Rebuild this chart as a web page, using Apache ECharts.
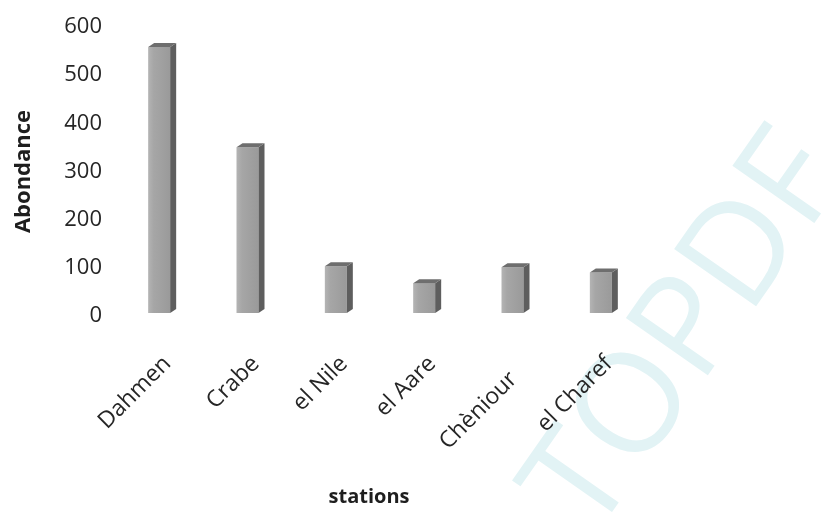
<!DOCTYPE html>
<html>
<head>
<meta charset="utf-8">
<title>Abondance par station</title>
<script src="https://cdn.jsdelivr.net/npm/echarts@6/dist/echarts.min.js"></script>
<style>
  html, body { margin: 0; padding: 0; background: #ffffff; }
  #chart { width: 826px; height: 512px; }
</style>
</head>
<body>
<div id="chart"></div>
<script>
// Stations sampled and the abundance counted at each one
const stations = ['Dahmen', 'Crabe', 'el Nile', 'el Aare', 'Chèniour', 'el Charef'];
const abondance = [552, 344, 97, 62, 95, 84];
const yTicks = { min: 0, max: 600, interval: 100 };

const FONT = '"Open Sans", "DejaVu Sans", sans-serif';

// Draws a column with a front face, a darker right side and a top face;
// the column stands half its depth in front of the value plane.
function renderColumn(params, api) {
  const idx = api.value(0);
  const top = api.coord([idx, api.value(1)]);
  const base = api.coord([idx, 0]);
  const half = 11;      // half width of the front face
  const dx = 6, dy = 4; // depth offset of the side and top faces
  const lift = 3;       // floor of the columns above the zero line
  const xl = top[0] - half, xr = top[0] + half;
  const yt = top[1] - lift, yb = base[1] - lift;
  return {
    type: 'group',
    children: [
      {
        type: 'rect',
        shape: { x: xl, y: yt, width: xr - xl, height: yb - yt },
        style: {
          fill: new echarts.graphic.LinearGradient(0, 0, 1, 0, [
            { offset: 0, color: '#b4b4b4' },
            { offset: 0.25, color: '#a6a6a6' },
            { offset: 1, color: '#9a9a9a' }
          ])
        }
      },
      {
        type: 'polygon',
        shape: { points: [[xr, yt], [xr + dx, yt - dy], [xr + dx, yb - dy], [xr, yb]] },
        style: { fill: '#5e5e5e' }
      },
      {
        type: 'polygon',
        shape: { points: [[xl, yt], [xl + dx, yt - dy], [xr + dx, yt - dy], [xr, yt]] },
        style: { fill: '#6e6e6e' }
      }
    ]
  };
}

const chart = echarts.init(document.getElementById('chart'), null, { renderer: 'canvas' });

const labelText = { fontFamily: FONT, fontSize: 23, color: '#262626' };

chart.setOption({
  backgroundColor: '#ffffff',
  animation: false,
  graphic: [
    {
      type: 'text',
      z: -10,
      x: 688,
      y: 334,
      rotation: 55 * Math.PI / 180,
      style: {
        text: 'TOPDF',
        fontSize: 140,
        fontFamily: FONT,
        fill: '#e2f3f5',
        align: 'center',
        verticalAlign: 'middle'
      }
    }
  ],
  grid: { left: 115, right: 181, top: 27, bottom: 193 },
  xAxis: {
    type: 'category',
    data: stations,
    name: 'stations',
    nameLocation: 'middle',
    nameGap: 171,
    nameTextStyle: {
      fontFamily: FONT, fontSize: 20, fontWeight: 'bold', color: '#1e1e1e',
      padding: [0, 22, 0, 0]
    },
    axisLine: { show: false },
    axisTick: { show: false },
    axisLabel: Object.assign({
      rotate: 45,
      margin: 36,
      interval: 0,
      align: 'right',
      verticalAlign: 'top',
      // the last-but-one label sits a little lower than the others
      formatter: v => (v === 'Chèniour' ? '{low|' + v + '}' : v),
      rich: {
        low: Object.assign({ padding: [6, 16, 0, 0] }, labelText)
      }
    }, labelText)
  },
  yAxis: {
    type: 'value',
    min: yTicks.min,
    max: yTicks.max,
    interval: yTicks.interval,
    name: 'Abondance',
    nameLocation: 'middle',
    nameGap: 80,
    nameRotate: 90,
    nameTextStyle: { fontFamily: FONT, fontSize: 22, fontWeight: 'bold', color: '#1e1e1e' },
    axisLine: { show: false },
    axisTick: { show: false },
    splitLine: { show: false },
    axisLabel: { margin: 13, fontFamily: FONT, fontSize: 22, color: '#262626' }
  },
  series: [
    {
      type: 'custom',
      renderItem: renderColumn,
      encode: { x: 0, y: 1 },
      data: stations.map((s, i) => [i, abondance[i]])
    }
  ]
});
</script>
</body>
</html>
